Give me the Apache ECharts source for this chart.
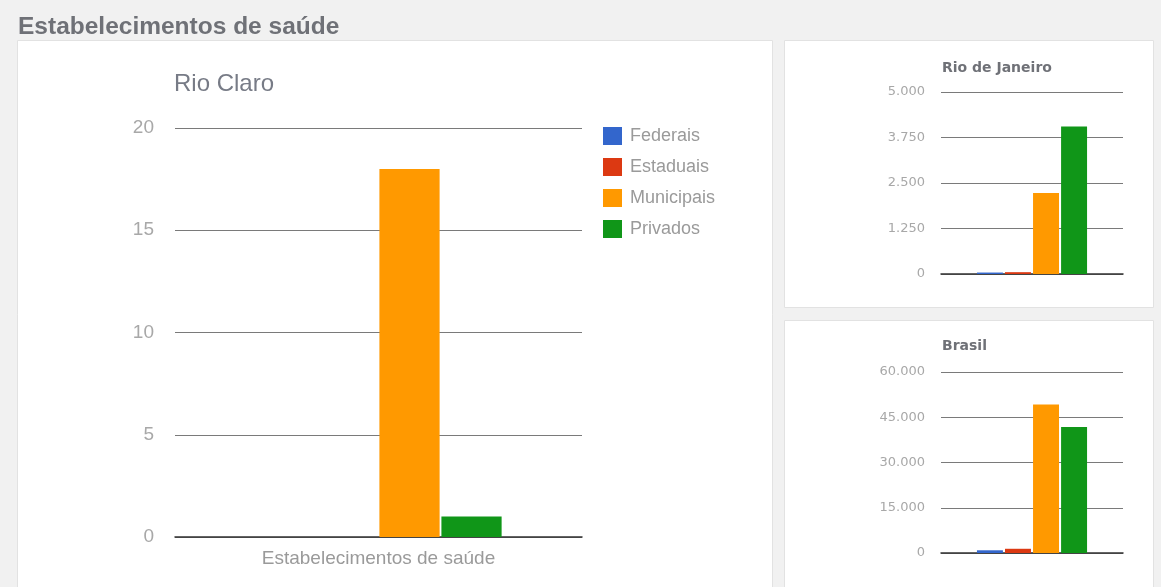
<!DOCTYPE html>
<html>
<head>
<meta charset="utf-8">
<script src="https://cdn.jsdelivr.net/npm/echarts@6/dist/echarts.min.js"></script>
<style>
  html, body { margin: 0; padding: 0; background: #f1f1f1; }
  #chart { width: 1161px; height: 587px; }
</style>
</head>
<body>
<div id="chart"></div>
<script>
// Health establishments by administrative sphere
const seriesNames = ['Federais', 'Estaduais', 'Municipais', 'Privados'];
const seriesColors = ['#3366cc', '#dc3912', '#ff9900', '#109618'];
const category = ['Estabelecimentos de saúde'];

const rioClaro = [0, 0, 18, 1];
const rioDeJaneiro = [40, 50, 2225, 4050];
const brasil = [900, 1400, 49200, 41800];

const rioClaroTicks = { max: 20, interval: 5 };
const rioDeJaneiroTicks = { max: 5000, interval: 1250 };
const brasilTicks = { max: 60000, interval: 15000 };

const SANS = "'Liberation Sans', Arial, sans-serif";
const WIDE = "'DejaVu Sans', Verdana, sans-serif";

function thousands(v) {
  return String(v).replace(/\B(?=(\d{3})+(?!\d))/g, '.');
}

function panel(x, y, w, h) {
  return {
    type: 'rect',
    shape: { x: x + 0.5, y: y + 0.5, width: w, height: h },
    style: { fill: '#ffffff', stroke: '#e2e2e2', lineWidth: 1 },
    silent: true,
    z: -10
  };
}

const grids = [
  { left: 175, top: 128, width: 407, height: 409 },
  { left: 941, top: 92, width: 182, height: 182 },
  { left: 941, top: 372, width: 182, height: 181 }
];

function xAxis(gridIndex, showLabel) {
  return {
    type: 'category',
    gridIndex,
    data: category,
    axisTick: { show: false },
    axisLine: { show: true, lineStyle: { color: '#333333', width: 1.5 } },
    axisLabel: {
      show: showLabel,
      color: '#9a9a9a',
      fontFamily: SANS,
      fontSize: 19,
      margin: 12
    }
  };
}

function yAxis(gridIndex, ticks, font, fontSize, margin) {
  return {
    type: 'value',
    gridIndex,
    min: 0,
    max: ticks.max,
    interval: ticks.interval,
    axisLine: { show: false },
    axisTick: { show: false },
    splitLine: { lineStyle: { color: '#7a7a7a', width: 1 } },
    axisLabel: {
      color: '#a8a8a8',
      fontFamily: font,
      fontSize,
      margin,
      formatter: thousands
    }
  };
}

function barSeries(values, axisIndex, catGap, gap) {
  return seriesNames.map((name, i) => ({
    name,
    type: 'bar',
    xAxisIndex: axisIndex,
    yAxisIndex: axisIndex,
    data: [values[i]],
    itemStyle: { color: seriesColors[i] },
    barCategoryGap: catGap,
    barGap: gap,
    silent: true
  }));
}

const chart = echarts.init(document.getElementById('chart'), null, { renderer: 'canvas' });

chart.setOption({
  backgroundColor: '#f1f1f1',
  animation: false,
  graphic: [
    panel(17, 40, 755, 560),
    panel(784, 40, 369, 267),
    panel(784, 320, 369, 280)
  ],
  title: [
    {
      text: 'Estabelecimentos de saúde',
      left: 18, top: 15, padding: 0,
      textStyle: { color: '#6f7177', fontFamily: SANS, fontSize: 24.5, fontWeight: 'bold' }
    },
    {
      text: 'Rio Claro',
      left: 174, top: 72, padding: 0,
      textStyle: { color: '#777b86', fontFamily: SANS, fontSize: 24, fontWeight: 'normal' }
    },
    {
      text: 'Rio de Janeiro',
      left: 942, top: 61, padding: 0,
      textStyle: { color: '#6f7177', fontFamily: WIDE, fontSize: 14, fontWeight: 'bold' }
    },
    {
      text: 'Brasil',
      left: 942, top: 339, padding: 0,
      textStyle: { color: '#6f7177', fontFamily: WIDE, fontSize: 14, fontWeight: 'bold' }
    }
  ],
  legend: {
    orient: 'vertical',
    left: 603,
    top: 127,
    padding: 0,
    icon: 'rect',
    itemWidth: 19,
    itemHeight: 18,
    itemGap: 13,
    data: seriesNames,
    selectedMode: false,
    textStyle: { color: '#9a9a9a', fontFamily: SANS, fontSize: 18, lineHeight: 18, padding: [0, 0, 0, 3] }
  },
  grid: grids,
  xAxis: [xAxis(0, true), xAxis(1, false), xAxis(2, false)],
  yAxis: [
    yAxis(0, rioClaroTicks, SANS, 19, 21),
    yAxis(1, rioDeJaneiroTicks, WIDE, 13, 16),
    yAxis(2, brasilTicks, WIDE, 13, 16)
  ],
  series: [
    ...barSeries(rioClaro, 0, '39.5%', '3%'),
    ...barSeries(rioDeJaneiro, 1, '39.5%', '8%'),
    ...barSeries(brasil, 2, '39.5%', '8%')
  ]
});
</script>
</body>
</html>
